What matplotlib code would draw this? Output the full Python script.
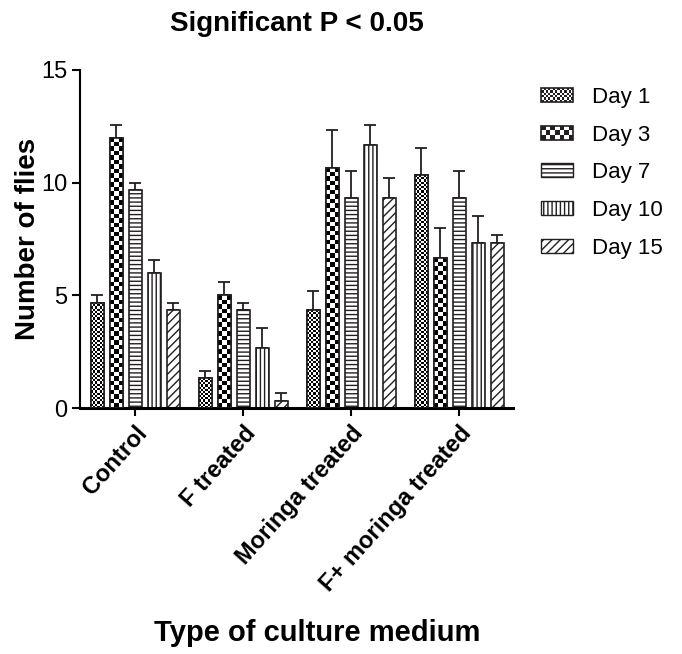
import matplotlib
matplotlib.use("Agg")
import matplotlib.pyplot as plt
from matplotlib.patches import Patch, Rectangle
from matplotlib.legend_handler import HandlerBase
import numpy as np

plt.rcParams['font.family'] = ['Liberation Sans', 'DejaVu Sans']
plt.rcParams['hatch.linewidth'] = 1.0

groups = ["Control", "F treated", "Moringa treated", "F+ moringa treated"]
days = ["Day 1", "Day 3", "Day 7", "Day 10", "Day 15"]

# mean number of flies, one list per day (order follows groups)
day1 = [4.67, 1.33, 4.33, 10.33]
day3 = [12.0, 5.0, 10.67, 6.67]
day7 = [9.67, 4.33, 9.33, 9.33]
day10 = [6.0, 2.67, 11.67, 7.33]
day15 = [4.33, 0.33, 9.33, 7.33]

# upper error bar (SEM)
err1 = [0.33, 0.33, 0.88, 1.2]
err3 = [0.58, 0.58, 1.67, 1.33]
err7 = [0.33, 0.33, 1.2, 1.2]
err10 = [0.58, 0.88, 0.88, 1.2]
err15 = [0.33, 0.33, 0.88, 0.33]

means = [day1, day3, day7, day10, day15]
errs = [err1, err3, err7, err10, err15]
hatches = [None, None, "----", "||||", "////"]
checker_px = [2.2, 4.5, None, None, None]
ink = "#231f20"

fig = plt.figure(figsize=(6.82, 6.54), dpi=100)
ax = fig.add_axes([0.1173, 0.376, 0.635, 0.517])

step = 0.176
width = 0.12
x = np.arange(len(groups))


def checker(n_rows, n_cols):
    return np.indices((n_rows, n_cols)).sum(axis=0) % 2


px_per_unit_y = 338.0 / 15
px_per_unit_x = 108.0

for i in range(len(days)):
    xs = x + (i - 2) * step
    bars = ax.bar(xs, means[i], width=width, color="white", edgecolor=ink,
                  linewidth=1.2, hatch=hatches[i], zorder=2)
    ax.errorbar(xs, means[i], yerr=[np.zeros(len(groups)), errs[i]], fmt="none",
                ecolor=ink, elinewidth=1.3, capsize=4, capthick=1.3, zorder=1)
    if checker_px[i] is not None:
        for b in bars:
            bx, bw, bh = b.get_x(), b.get_width(), b.get_height()
            nc = max(1, int(round(bw * px_per_unit_x / checker_px[i])))
            nr = max(1, int(round(bh * px_per_unit_y / checker_px[i])))
            im = ax.imshow(checker(nr, nc), cmap="gray", interpolation="nearest",
                           aspect="auto", extent=(bx, bx + bw, 0, bh), zorder=2.5)
            im.set_clip_path(b)
            ax.bar(bx + bw / 2, bh, width=bw, fill=False, edgecolor=ink,
                   linewidth=1.2, zorder=3)

ax.set_xlim(-0.51, 3.5)
ax.set_ylim(0, 15)
ax.set_yticks([0, 5, 10, 15])
ax.set_xticks(x)
ax.set_xticklabels(groups, rotation=48, ha="right", rotation_mode="anchor",
                   fontsize=17, fontweight="bold")
ax.tick_params(axis="y", labelsize=17, length=6, width=1.5, direction="out", pad=3)
ax.tick_params(axis="x", length=6, width=1.5, direction="out", pad=4)
for s in ["top", "right"]:
    ax.spines[s].set_visible(False)
ax.spines["left"].set_linewidth(1.5)
ax.spines["bottom"].set_linewidth(2.2)

ax.set_ylabel("Number of flies", fontsize=20, fontweight="bold")
ax.yaxis.set_label_coords(-0.09, 0.5)
ax.set_xlabel("Type of culture medium", fontsize=21, fontweight="bold")
ax.xaxis.set_label_coords(0.547, -0.625)
ax.set_title("Significant P < 0.05", fontsize=20, fontweight="bold", pad=28)


class CheckerHandler(HandlerBase):
    def __init__(self, n_cols, n_rows):
        super().__init__()
        self.n_cols = n_cols
        self.n_rows = n_rows

    def create_artists(self, legend, orig_handle, xdescent, ydescent, width,
                       height, fontsize, trans):
        arts = []
        cw = width / self.n_cols
        ch = height / self.n_rows
        for r in range(self.n_rows):
            for c in range(self.n_cols):
                if (r + c) % 2 == 0:
                    arts.append(Rectangle((-xdescent + c * cw, -ydescent + r * ch), cw, ch,
                                          facecolor=ink, edgecolor="none", transform=trans))
        arts.append(Rectangle((-xdescent, -ydescent), width, height, facecolor="none",
                              edgecolor=ink, linewidth=1.2, transform=trans))
        return arts


handles = []
for i in range(len(days)):
    handles.append(Patch(facecolor="white", edgecolor=ink, hatch=hatches[i], label=days[i]))
ax.legend(handles=handles, loc="upper left", bbox_to_anchor=(1.065, 0.95),
          frameon=False, fontsize=16, handlelength=1.45, handleheight=0.6,
          labelspacing=0.75, handletextpad=0.85, borderpad=0, borderaxespad=0,
          handler_map={handles[0]: CheckerHandler(14, 6),
                       handles[1]: CheckerHandler(7, 3)})

fig.savefig("out.png", dpi=100)
